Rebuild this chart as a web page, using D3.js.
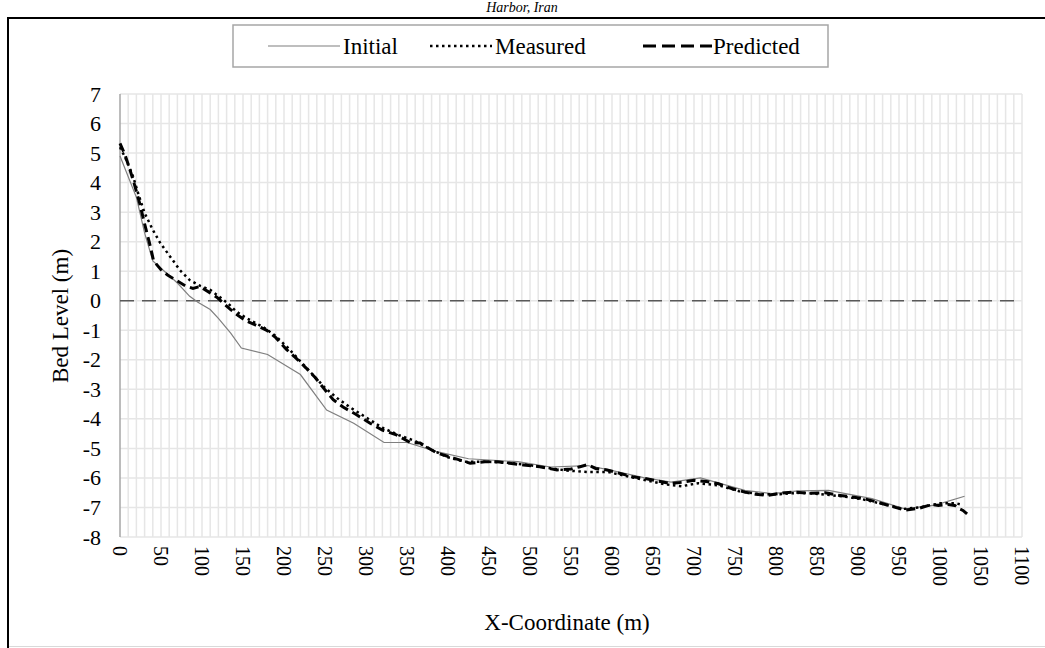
<!DOCTYPE html>
<html>
<head>
<meta charset="utf-8">
<script src="https://cdn.jsdelivr.net/npm/d3@7"></script>
<style>
  body { margin: 0; background: #fff; }
  text { font-family: "Liberation Serif", "Times New Roman", serif; fill: #000; }
</style>
</head>
<body>
<script>
// data (x in m, bed level in m)
var initialX = [0, 20, 30, 40, 50, 70, 85, 95, 110, 120, 135, 148, 180, 220, 252, 285, 322, 350, 385, 425, 485, 525, 570, 595, 640, 672, 708, 762, 795, 827, 864, 917, 957, 994, 1030];
var initialY = [4.9, 3.5, 2.3, 1.35, 1.1, 0.6, 0.15, -0.05, -0.3, -0.6, -1.1, -1.6, -1.82, -2.5, -3.7, -4.15, -4.8, -4.8, -5.1, -5.35, -5.45, -5.63, -5.58, -5.72, -6.0, -6.14, -6.0, -6.42, -6.53, -6.44, -6.42, -6.7, -7.05, -6.92, -6.62];

var measuredX = [0, 8, 16, 22, 30, 40, 49, 61, 73, 85, 98, 110, 122, 132, 142, 155, 175, 190, 205, 220, 235, 250, 265, 280, 300, 320, 340, 360, 380, 400, 420, 445, 470, 495, 520, 545, 570, 595, 620, 645, 665, 685, 705, 730, 755, 780, 805, 830, 855, 880, 905, 930, 955, 975, 1000, 1020, 1028];
var measuredY = [5.2, 4.75, 4.2, 3.65, 2.97, 2.4, 1.96, 1.5, 1.04, 0.7, 0.5, 0.37, 0.12, -0.1, -0.37, -0.6, -0.9, -1.2, -1.6, -2.05, -2.5, -2.95, -3.3, -3.6, -3.95, -4.3, -4.55, -4.75, -5.05, -5.3, -5.45, -5.45, -5.48, -5.55, -5.65, -5.75, -5.8, -5.8, -5.95, -6.1, -6.22, -6.28, -6.18, -6.25, -6.45, -6.55, -6.55, -6.5, -6.55, -6.62, -6.72, -6.88, -7.05, -7.0, -6.86, -6.86, -6.92];

var predictedX = [0, 6, 12, 18, 24, 30, 36, 41, 50, 58, 68, 80, 89, 97, 108, 118, 126, 135, 145, 155, 165, 179, 190, 203, 215, 227, 238, 248, 260, 272, 288, 305, 320, 337, 354, 366, 386, 407, 427, 445, 460, 475, 492, 512, 533, 550, 561, 570, 580, 594, 610, 625, 640, 655, 672, 685, 700, 715, 729, 745, 762, 775, 790, 805, 822, 840, 860, 875, 892, 907, 921, 940, 957, 974, 990, 998, 1010, 1018, 1024, 1028, 1033];
var predictedY = [5.33, 4.95, 4.45, 3.9, 3.3, 2.6, 1.95, 1.35, 1.05, 0.87, 0.7, 0.5, 0.42, 0.48, 0.3, 0.12, -0.08, -0.3, -0.52, -0.7, -0.82, -1.0, -1.25, -1.65, -1.95, -2.28, -2.6, -2.95, -3.35, -3.6, -3.85, -4.15, -4.38, -4.54, -4.8, -4.82, -5.15, -5.33, -5.5, -5.45, -5.45, -5.5, -5.56, -5.62, -5.73, -5.7, -5.62, -5.55, -5.68, -5.73, -5.85, -5.96, -6.02, -6.1, -6.19, -6.15, -6.08, -6.12, -6.19, -6.35, -6.48, -6.55, -6.59, -6.52, -6.48, -6.52, -6.5, -6.58, -6.64, -6.7, -6.8, -6.95, -7.09, -7.03, -6.9, -6.93, -6.9, -6.93, -7.05, -7.1, -7.22];

var xTicks = d3.range(0, 1101, 50);
var yTicks = d3.range(-8, 8, 1);

var W = 1045, H = 648;
var svg = d3.select("body").append("svg").attr("width", W).attr("height", H);

var x = d3.scaleLinear().domain([0, 1100]).range([120, 1022]);
var y = d3.scaleLinear().domain([-8, 7]).range([537, 94]);

// caption above the frame
svg.append("text").attr("x", 522).attr("y", 12).attr("text-anchor", "middle")
   .attr("font-size", 14).attr("font-style", "italic").text("Harbor, Iran");

// figure frame
svg.append("line").attr("x1", 8).attr("x2", W).attr("y1", 18).attr("y2", 18).attr("stroke", "#000").attr("stroke-width", 2);
svg.append("line").attr("x1", 8).attr("x2", 8).attr("y1", 17).attr("y2", H).attr("stroke", "#000").attr("stroke-width", 2);
svg.append("line").attr("x1", 9).attr("x2", W).attr("y1", 646.5).attr("y2", 646.5).attr("stroke", "#d9d9d9").attr("stroke-width", 1);

// grid
var grid = svg.append("g");
grid.selectAll(".vg").data(d3.range(10, 1101, 10)).enter().append("line")
    .attr("x1", function(d) { return x(d); }).attr("x2", function(d) { return x(d); })
    .attr("y1", y(7)).attr("y2", y(-8))
    .attr("stroke", "#e6e6e6").attr("stroke-width", 1.5);
grid.selectAll(".hg").data(yTicks).enter().append("line")
    .attr("x1", x(0)).attr("x2", x(1100))
    .attr("y1", function(d) { return y(d); }).attr("y2", function(d) { return y(d); })
    .attr("stroke", "#e6e6e6").attr("stroke-width", 1.5);

// left axis line
svg.append("line").attr("x1", x(0)).attr("x2", x(0)).attr("y1", y(7)).attr("y2", y(-8))
   .attr("stroke", "#a6a6a6").attr("stroke-width", 1.5);

// zero reference line
svg.append("line").attr("x1", x(0)).attr("x2", x(1100)).attr("y1", y(0)).attr("y2", y(0))
   .attr("stroke", "#595959").attr("stroke-width", 1.5).attr("stroke-dasharray", "14,8");

// tick labels
svg.selectAll(".yl").data(yTicks).enter().append("text")
   .attr("x", 101).attr("y", function(d) { return y(d); })
   .attr("text-anchor", "end").attr("dominant-baseline", "central")
   .attr("font-size", 22).text(function(d) { return d; });

svg.selectAll(".xl").data(xTicks).enter().append("text")
   .attr("transform", function(d) { return "translate(" + x(d) + ",546) rotate(90)"; })
   .attr("text-anchor", "start").attr("dominant-baseline", "central")
   .attr("font-size", 20).text(function(d) { return d; });

// axis titles
svg.append("text").attr("transform", "translate(60,316) rotate(-90)")
   .attr("text-anchor", "middle").attr("dominant-baseline", "central")
   .attr("font-size", 23).text("Bed Level (m)");
svg.append("text").attr("x", 567).attr("y", 622).attr("text-anchor", "middle").attr("dominant-baseline", "central")
   .attr("font-size", 23).text("X-Coordinate (m)");

// series
var line = d3.line().x(function(d) { return x(d[0]); }).y(function(d) { return y(d[1]); });

svg.append("path").datum(d3.zip(initialX, initialY)).attr("d", line)
   .attr("fill", "none").attr("stroke", "#7f7f7f").attr("stroke-width", 1.2);
svg.append("path").datum(d3.zip(predictedX, predictedY)).attr("d", line)
   .attr("fill", "none").attr("stroke", "#000").attr("stroke-width", 3).attr("stroke-dasharray", "9,5");
svg.append("path").datum(d3.zip(measuredX, measuredY)).attr("d", line)
   .attr("fill", "none").attr("stroke", "#000").attr("stroke-width", 2.5).attr("stroke-dasharray", "2.5,3.5");

// legend
var lg = svg.append("g");
lg.append("rect").attr("x", 233).attr("y", 25).attr("width", 595).attr("height", 42)
  .attr("fill", "#fff").attr("stroke", "#a6a6a6").attr("stroke-width", 1.5);
var ly = 46;
lg.append("line").attr("x1", 268).attr("x2", 340).attr("y1", ly).attr("y2", ly).attr("stroke", "#7f7f7f").attr("stroke-width", 1.2);
lg.append("text").attr("x", 343).attr("y", ly).attr("dominant-baseline", "central").attr("font-size", 23).text("Initial");
lg.append("line").attr("x1", 430).attr("x2", 492).attr("y1", ly).attr("y2", ly).attr("stroke", "#000").attr("stroke-width", 2.5).attr("stroke-dasharray", "2.5,3.5");
lg.append("text").attr("x", 495).attr("y", ly).attr("dominant-baseline", "central").attr("font-size", 23).text("Measured");
lg.append("line").attr("x1", 643).attr("x2", 712).attr("y1", ly).attr("y2", ly).attr("stroke", "#000").attr("stroke-width", 3).attr("stroke-dasharray", "13,6");
lg.append("text").attr("x", 713).attr("y", ly).attr("dominant-baseline", "central").attr("font-size", 23).text("Predicted");
</script>
</body>
</html>
